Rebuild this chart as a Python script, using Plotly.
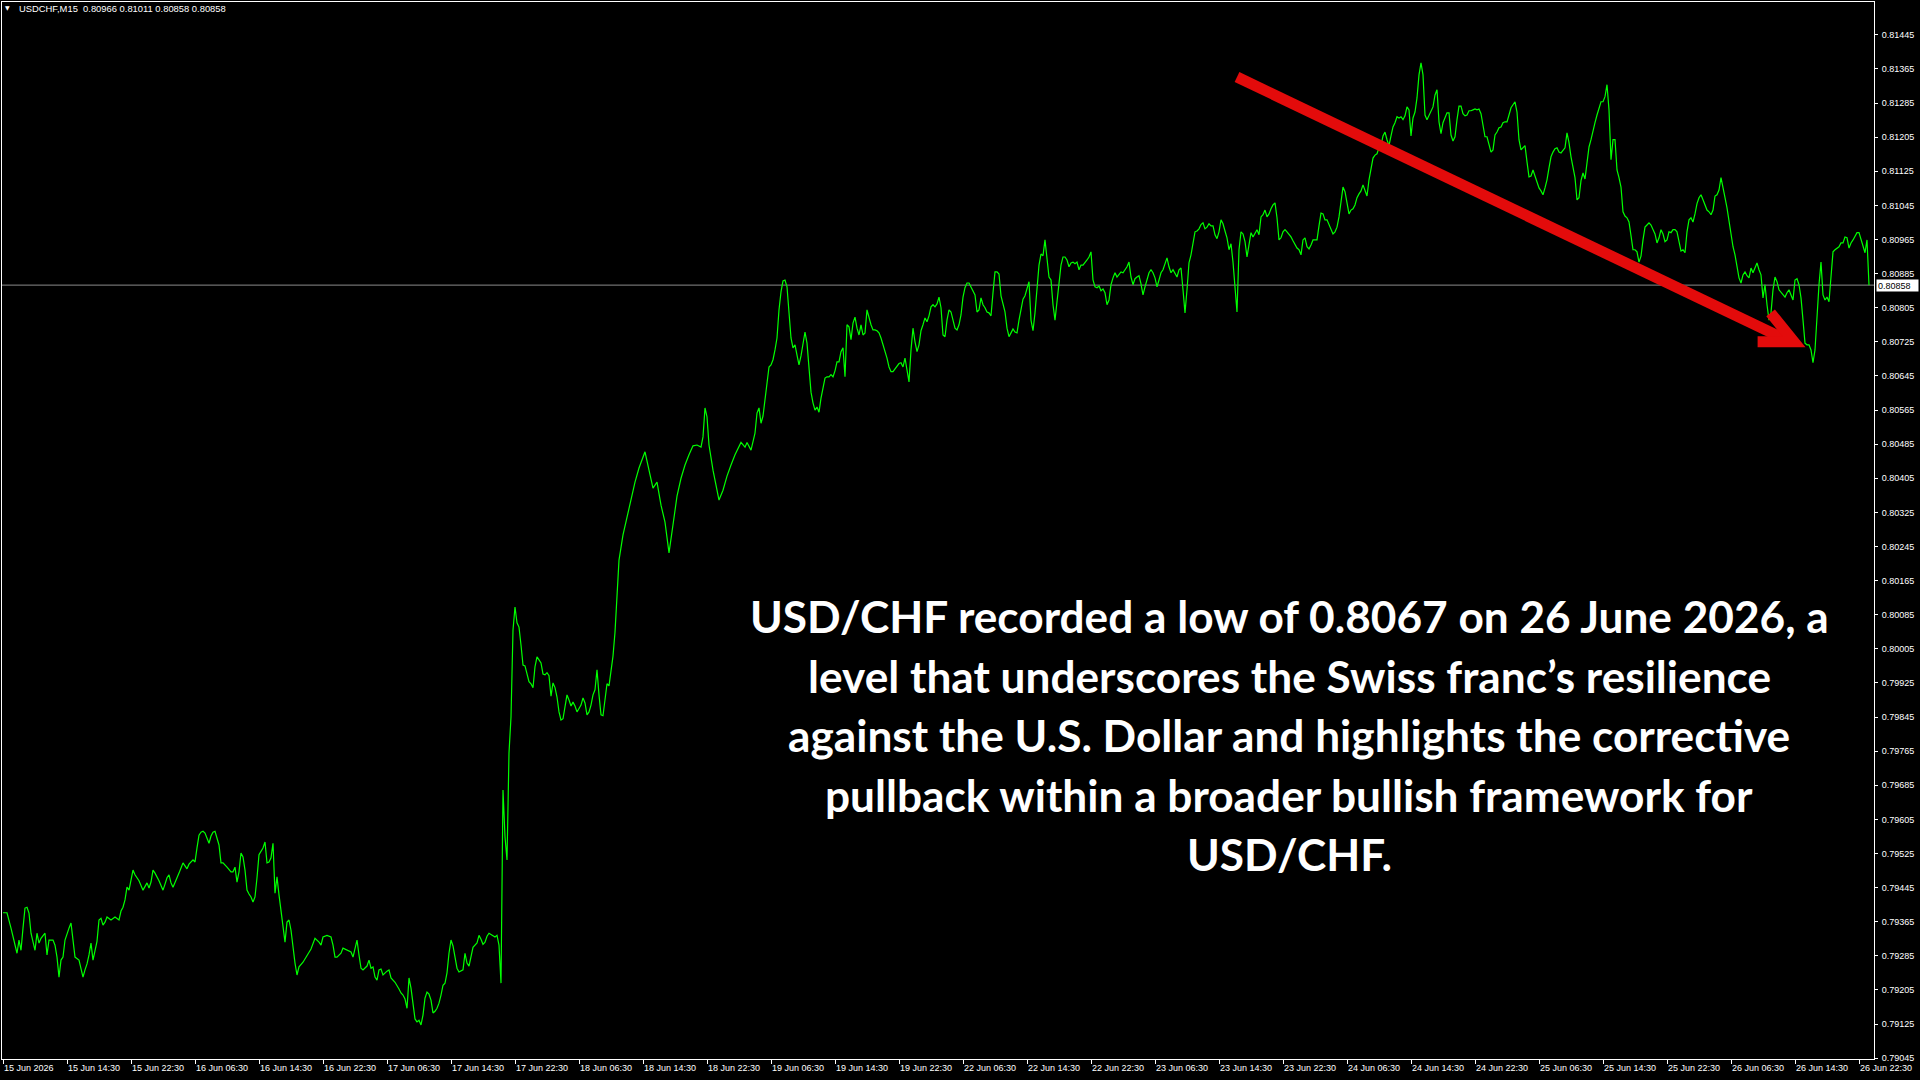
import plotly.graph_objects as go

# ---------------- data ----------------
symbol = "USDCHF,M15"
header_ohlc = ["0.80966", "0.81011", "0.80858", "0.80858"]
last_close = 0.80858

x_tick_labels = [
    "15 Jun 2026", "15 Jun 14:30", "15 Jun 22:30", "16 Jun 06:30", "16 Jun 14:30",
    "16 Jun 22:30", "17 Jun 06:30", "17 Jun 14:30", "17 Jun 22:30", "18 Jun 06:30",
    "18 Jun 14:30", "18 Jun 22:30", "19 Jun 06:30", "19 Jun 14:30", "19 Jun 22:30",
    "22 Jun 06:30", "22 Jun 14:30", "22 Jun 22:30", "23 Jun 06:30", "23 Jun 14:30",
    "23 Jun 22:30", "24 Jun 06:30", "24 Jun 14:30", "24 Jun 22:30", "25 Jun 06:30",
    "25 Jun 14:30", "25 Jun 22:30", "26 Jun 06:30", "26 Jun 14:30", "26 Jun 22:30",
]
bars_per_label = 32

y_tick_labels = [
    "0.79045", "0.79125", "0.79205", "0.79285", "0.79365", "0.79445", "0.79525",
    "0.79605", "0.79685", "0.79765", "0.79845", "0.79925", "0.80005", "0.80085",
    "0.80165", "0.80245", "0.80325", "0.80405", "0.80485", "0.80565", "0.80645",
    "0.80725", "0.80805", "0.80885", "0.80965", "0.81045", "0.81125", "0.81205",
    "0.81285", "0.81365", "0.81445",
]

# bars 0..249 (sampled)
seg_a_idx = [
    0, 2, 4, 6, 7, 8, 9, 10, 11, 12,
    13, 14, 15, 16, 17, 18, 19, 21, 22, 23,
    25, 26, 27, 28, 29, 30, 31, 32, 33, 34,
    35, 36, 38, 39, 40, 41, 42, 43, 44, 45,
    46, 47, 48, 49, 50, 51, 52, 54, 56, 58,
    59, 60, 61, 62, 63, 64, 65, 66, 67, 68,
    70, 71, 72, 73, 74, 75, 76, 78, 80, 81,
    82, 83, 84, 85, 86, 88, 89, 90, 92, 93,
    95, 96, 97, 98, 99, 100, 101, 102, 103, 104,
    105, 106, 107, 108, 109, 110, 112, 113, 114, 115,
    116, 117, 118, 119, 120, 121, 122, 123, 124, 125,
    126, 127, 128, 130, 131, 132, 133, 134, 135, 136,
    137, 138, 139, 141, 142, 143, 144, 145, 146, 147,
    148, 150, 152, 154, 156, 158, 159, 160, 162, 164,
    165, 166, 167, 169, 170, 172, 174, 175, 176, 177,
    178, 179, 180, 182, 183, 184, 185, 186, 187, 188,
    189, 190, 192, 193, 194, 196, 198, 199, 200, 201,
    202, 203, 204, 205, 206, 207, 208, 209, 210, 211,
    212, 213, 214, 215, 216, 217, 218, 219, 220, 221,
    222, 223, 224, 225, 226, 227, 228, 230, 231, 232,
    233, 234, 235, 237, 238, 239, 240, 241, 242, 243,
    245, 246, 247, 248, 249,
]
seg_a_close = [
    0.79386, 0.79386, 0.79350, 0.79310, 0.79291, 0.79322, 0.79298, 0.79350, 0.79397, 0.79399,
    0.79385, 0.79338, 0.79315, 0.79298, 0.79338, 0.79315, 0.79326, 0.79338, 0.79287, 0.79322,
    0.79322, 0.79310, 0.79282, 0.79235, 0.79275, 0.79282, 0.79322, 0.79338, 0.79350, 0.79362,
    0.79322, 0.79282, 0.79275, 0.79252, 0.79235, 0.79252, 0.79266, 0.79287, 0.79315, 0.79275,
    0.79298, 0.79319, 0.79369, 0.79373, 0.79357, 0.79364, 0.79376, 0.79369, 0.79376, 0.79369,
    0.79390, 0.79399, 0.79416, 0.79446, 0.79439, 0.79463, 0.79486, 0.79475, 0.79468, 0.79461,
    0.79439, 0.79449, 0.79456, 0.79444, 0.79458, 0.79486, 0.79479, 0.79461, 0.79439, 0.79453,
    0.79468, 0.79475, 0.79456, 0.79446, 0.79456, 0.79479, 0.79491, 0.79503, 0.79489, 0.79500,
    0.79510, 0.79505, 0.79538, 0.79568, 0.79575, 0.79577, 0.79573, 0.79563, 0.79549, 0.79566,
    0.79575, 0.79577, 0.79563, 0.79545, 0.79503, 0.79503, 0.79493, 0.79486, 0.79482, 0.79482,
    0.79493, 0.79458, 0.79482, 0.79526, 0.79517, 0.79486, 0.79439, 0.79430, 0.79423, 0.79411,
    0.79423, 0.79468, 0.79522, 0.79538, 0.79552, 0.79503, 0.79505, 0.79515, 0.79549, 0.79432,
    0.79470, 0.79428, 0.79392, 0.79317, 0.79364, 0.79369, 0.79345, 0.79298, 0.79268, 0.79240,
    0.79259, 0.79270, 0.79287, 0.79301, 0.79326, 0.79317, 0.79310, 0.79329, 0.79333, 0.79329,
    0.79310, 0.79282, 0.79282, 0.79291, 0.79303, 0.79298, 0.79294, 0.79282, 0.79303, 0.79322,
    0.79287, 0.79256, 0.79252, 0.79261, 0.79275, 0.79256, 0.79259, 0.79235, 0.79228, 0.79252,
    0.79254, 0.79240, 0.79249, 0.79252, 0.79233, 0.79223, 0.79207, 0.79198, 0.79193, 0.79184,
    0.79162, 0.79233, 0.79209, 0.79169, 0.79137, 0.79130, 0.79134, 0.79123, 0.79146, 0.79186,
    0.79200, 0.79195, 0.79181, 0.79151, 0.79155, 0.79162, 0.79174, 0.79193, 0.79216, 0.79221,
    0.79245, 0.79291, 0.79322, 0.79308, 0.79280, 0.79256, 0.79247, 0.79252, 0.79291, 0.79268,
    0.79261, 0.79287, 0.79305, 0.79315, 0.79333, 0.79324, 0.79312, 0.79317, 0.79331, 0.79338,
    0.79333, 0.79329, 0.79333, 0.79310, 0.79221,
]

# bars 250..308 (every bar)
seg_b_start = 250
seg_b_close = [
    0.79674, 0.79564, 0.79510, 0.79761, 0.79845, 0.80049, 0.80103, 0.80066, 0.80056, 0.80014,
    0.79967, 0.79965, 0.79949, 0.79928, 0.79923, 0.79914, 0.79963, 0.79986, 0.79979, 0.79972,
    0.79946, 0.79944, 0.79949, 0.79942, 0.79894, 0.79925, 0.79914, 0.79892, 0.79857, 0.79838,
    0.79841, 0.79868, 0.79897, 0.79885, 0.79871, 0.79880, 0.79871, 0.79857, 0.79866, 0.79873,
    0.79890, 0.79878, 0.79850, 0.79857, 0.79873, 0.79897, 0.79909, 0.79956, 0.79897, 0.79850,
    0.79848, 0.79885, 0.79923, 0.79918, 0.79949, 0.79988, 0.80044, 0.80138, 0.80213,
]

# bars 310..380 (sampled)
seg_c_idx = [
    310, 312, 314, 316, 318, 320, 321, 323, 325, 327,
    329, 331, 333, 335, 337, 339, 341, 343, 345, 347,
    349, 350, 351, 352, 353, 355, 357, 358, 360, 362,
    364, 366, 369, 371, 372, 374, 376, 377, 378, 379,
    380,
]
seg_c_close = [
    0.80272, 0.80312, 0.80359, 0.80396, 0.80429, 0.80452, 0.80467, 0.80424, 0.80382, 0.80396,
    0.80342, 0.80302, 0.80230, 0.80296, 0.80363, 0.80405, 0.80436, 0.80460, 0.80481, 0.80483,
    0.80478, 0.80502, 0.80570, 0.80549, 0.80483, 0.80424, 0.80382, 0.80354, 0.80377, 0.80410,
    0.80436, 0.80460, 0.80489, 0.80478, 0.80489, 0.80471, 0.80511, 0.80558, 0.80570, 0.80534,
    0.80551,
]

# bars 381..933 (every bar)
seg_d_start = 381
seg_d_close = [
    0.80593, 0.80624, 0.80666, 0.80671, 0.80683, 0.80706, 0.80734, 0.80800, 0.80842, 0.80868,
    0.80870, 0.80854, 0.80795, 0.80734, 0.80711, 0.80718, 0.80694, 0.80671, 0.80692, 0.80725,
    0.80748, 0.80722, 0.80671, 0.80607, 0.80582, 0.80565, 0.80572, 0.80560, 0.80593, 0.80617,
    0.80640, 0.80643, 0.80643, 0.80648, 0.80643, 0.80657, 0.80678, 0.80678, 0.80702, 0.80711,
    0.80643, 0.80765, 0.80760, 0.80730, 0.80769, 0.80783, 0.80757, 0.80741, 0.80765, 0.80741,
    0.80746, 0.80800, 0.80781, 0.80765, 0.80753, 0.80753, 0.80751, 0.80746, 0.80734, 0.80720,
    0.80706, 0.80687, 0.80666, 0.80655, 0.80655, 0.80662, 0.80666, 0.80674, 0.80676, 0.80666,
    0.80687, 0.80659, 0.80631, 0.80706, 0.80757, 0.80725, 0.80702, 0.80718, 0.80751, 0.80765,
    0.80781, 0.80772, 0.80786, 0.80807, 0.80812, 0.80807, 0.80814, 0.80830, 0.80805, 0.80741,
    0.80737, 0.80776, 0.80800, 0.80795, 0.80779, 0.80757, 0.80753, 0.80765, 0.80788, 0.80830,
    0.80852, 0.80863, 0.80863, 0.80854, 0.80847, 0.80835, 0.80795, 0.80800, 0.80828, 0.80812,
    0.80805, 0.80795, 0.80793, 0.80786, 0.80840, 0.80889, 0.80889, 0.80884, 0.80833, 0.80816,
    0.80795, 0.80757, 0.80737, 0.80746, 0.80755, 0.80748, 0.80746, 0.80776, 0.80800, 0.80825,
    0.80833, 0.80852, 0.80866, 0.80776, 0.80751, 0.80793, 0.80847, 0.80905, 0.80931, 0.80927,
    0.80964, 0.80912, 0.80877, 0.80870, 0.80812, 0.80776, 0.80823, 0.80859, 0.80905, 0.80924,
    0.80924, 0.80917, 0.80901, 0.80910, 0.80912, 0.80908, 0.80912, 0.80894, 0.80905, 0.80905,
    0.80910, 0.80917, 0.80924, 0.80936, 0.80870, 0.80854, 0.80852, 0.80856, 0.80845, 0.80849,
    0.80840, 0.80812, 0.80823, 0.80859, 0.80875, 0.80887, 0.80877, 0.80884, 0.80889, 0.80887,
    0.80894, 0.80901, 0.80912, 0.80877, 0.80859, 0.80873, 0.80877, 0.80880, 0.80861, 0.80835,
    0.80854, 0.80870, 0.80887, 0.80894, 0.80887, 0.80875, 0.80854, 0.80870, 0.80887, 0.80894,
    0.80910, 0.80922, 0.80901, 0.80887, 0.80894, 0.80887, 0.80877, 0.80894, 0.80898, 0.80847,
    0.80793, 0.80847, 0.80910, 0.80929, 0.80957, 0.80983, 0.80985, 0.80990, 0.81000, 0.81004,
    0.80990, 0.80994, 0.81002, 0.80997, 0.80997, 0.80976, 0.80967, 0.80983, 0.81011, 0.81002,
    0.80985, 0.80969, 0.80941, 0.80955, 0.80912, 0.80847, 0.80795, 0.80941, 0.80983, 0.80978,
    0.80960, 0.80924, 0.80957, 0.80981, 0.80971, 0.80981, 0.80988, 0.80976, 0.81018, 0.81023,
    0.81034, 0.81018, 0.81025, 0.81037, 0.81046, 0.81051, 0.81016, 0.80964, 0.80969, 0.80983,
    0.80988, 0.80983, 0.80978, 0.80971, 0.80962, 0.80952, 0.80945, 0.80941, 0.80929, 0.80964,
    0.80969, 0.80948, 0.80943, 0.80952, 0.80964, 0.80964, 0.80964, 0.80997, 0.81027, 0.81025,
    0.81011, 0.81011, 0.81000, 0.80988, 0.80978, 0.80983, 0.80994, 0.81018, 0.81051, 0.81088,
    0.81077, 0.81049, 0.81025, 0.81034, 0.81037, 0.81046, 0.81063, 0.81072, 0.81079, 0.81093,
    0.81081, 0.81067, 0.81105, 0.81133, 0.81156, 0.81163, 0.81166, 0.81180, 0.81185, 0.81208,
    0.81217, 0.81199, 0.81185, 0.81208, 0.81229, 0.81239, 0.81253, 0.81250, 0.81253, 0.81246,
    0.81255, 0.81276, 0.81269, 0.81208, 0.81250, 0.81264, 0.81297, 0.81351, 0.81379, 0.81351,
    0.81257, 0.81246, 0.81255, 0.81264, 0.81276, 0.81304, 0.81316, 0.81241, 0.81213, 0.81239,
    0.81250, 0.81262, 0.81262, 0.81210, 0.81196, 0.81206, 0.81246, 0.81278, 0.81278, 0.81260,
    0.81255, 0.81257, 0.81267, 0.81267, 0.81269, 0.81271, 0.81269, 0.81271, 0.81260, 0.81234,
    0.81206, 0.81206, 0.81189, 0.81170, 0.81175, 0.81210, 0.81217, 0.81227, 0.81229, 0.81239,
    0.81241, 0.81241, 0.81257, 0.81274, 0.81281, 0.81288, 0.81264, 0.81199, 0.81175, 0.81180,
    0.81185, 0.81147, 0.81112, 0.81114, 0.81128, 0.81114, 0.81098, 0.81086, 0.81079, 0.81070,
    0.81086, 0.81105, 0.81133, 0.81159, 0.81170, 0.81178, 0.81180, 0.81170, 0.81168, 0.81173,
    0.81180, 0.81215, 0.81192, 0.81159, 0.81133, 0.81110, 0.81058, 0.81063, 0.81103, 0.81121,
    0.81107, 0.81152, 0.81182, 0.81199, 0.81222, 0.81239, 0.81257, 0.81276, 0.81288, 0.81288,
    0.81300, 0.81328, 0.81269, 0.81152, 0.81199, 0.81199, 0.81128, 0.81110, 0.81088, 0.81030,
    0.81020, 0.81016, 0.81006, 0.80974, 0.80941, 0.80941, 0.80936, 0.80912, 0.80926, 0.80964,
    0.80994, 0.80999, 0.81004, 0.80999, 0.80988, 0.80978, 0.80957, 0.80969, 0.80988, 0.80978,
    0.80960, 0.80964, 0.80983, 0.80981, 0.80988, 0.80988, 0.80983, 0.80960, 0.80938, 0.80941,
    0.80934, 0.80983, 0.81011, 0.81016, 0.81006, 0.81025, 0.81049, 0.81063, 0.81070, 0.81058,
    0.81046, 0.81034, 0.81030, 0.81023, 0.81034, 0.81067, 0.81070, 0.81081, 0.81110, 0.81081,
    0.81063, 0.81039, 0.81006, 0.80974, 0.80948, 0.80929, 0.80898, 0.80875, 0.80863, 0.80882,
    0.80889, 0.80880, 0.80875, 0.80898, 0.80887, 0.80898, 0.80910, 0.80894, 0.80882, 0.80828,
    0.80859, 0.80812, 0.80776, 0.80793, 0.80847, 0.80877, 0.80866, 0.80847, 0.80842, 0.80835,
    0.80830, 0.80840, 0.80847, 0.80835, 0.80823, 0.80870, 0.80873, 0.80859, 0.80828, 0.80776,
    0.80722, 0.80718, 0.80718, 0.80706, 0.80676, 0.80706, 0.80800, 0.80859, 0.80912, 0.80835,
    0.80823, 0.80830, 0.80819, 0.80882, 0.80936, 0.80941, 0.80945, 0.80948, 0.80957, 0.80957,
    0.80971, 0.80969, 0.80945, 0.80957, 0.80964, 0.80974, 0.80981, 0.80981, 0.80964, 0.80945,
    0.80934, 0.80964, 0.80858,
]

# trend arrow anchored in (bar, price)
arrow_start = (617, 0.81346)
arrow_tip = (895.5, 0.80725)
arrow_barb_upper = (883.8, 0.80793)
arrow_barb_lower = (877.3, 0.80725)

note_lines = [
    "USD/CHF recorded a low of 0.8067 on 26 June 2026, a",
    "level that underscores the Swiss franc\u2019s resilience",
    "against the U.S. Dollar and highlights the corrective",
    "pullback within a broader bullish framework for",
    "USD/CHF.",
]

# ---------------- assemble ----------------
bar_index = (seg_a_idx
             + list(range(seg_b_start, seg_b_start + len(seg_b_close)))
             + seg_c_idx
             + list(range(seg_d_start, seg_d_start + len(seg_d_close))))
close_price = seg_a_close + seg_b_close + seg_c_close + seg_d_close

W, H = 1920, 1080
M_L, M_R, M_T, M_B = 2, 46, 2, 21
FONT = "Liberation Sans, Arial, sans-serif"

fig = go.Figure()
fig.add_trace(go.Scatter(
    x=bar_index, y=close_price, mode="lines",
    line=dict(color="#00ff00", width=1.2),
    hoverinfo="skip", showlegend=False,
))

n_total = seg_d_start + len(seg_d_close)
fig.update_xaxes(
    range=[-0.5, n_total + 1.5],
    tickmode="array",
    tickvals=[k * bars_per_label for k in range(len(x_tick_labels))],
    ticktext=x_tick_labels,
    ticks="outside", ticklen=4, tickcolor="#ffffff", tickwidth=1,
    ticklabelposition="outside right", ticklabeloverflow="allow",
    tickangle=0,
    tickfont=dict(family=FONT, size=9, color="#ffffff"),
    showgrid=False, zeroline=False,
    showline=True, linecolor="#ffffff", linewidth=1, mirror=True,
)
fig.update_yaxes(
    side="right",
    range=[0.79043, 0.81522],
    tickmode="array",
    tickvals=[float(t) for t in y_tick_labels],
    ticktext=y_tick_labels,
    ticks="outside", ticklen=3, tickcolor="#ffffff", tickwidth=1,
    tickfont=dict(family=FONT, size=9, color="#ffffff"),
    ticklabelstandoff=2,
    showgrid=False, zeroline=False,
    showline=True, linecolor="#ffffff", linewidth=1, mirror=True,
)

shapes = [
    # last price line
    dict(type="line", xref="paper", x0=0, x1=1, yref="y",
         y0=last_close, y1=last_close,
         line=dict(color="#8c8c8c", width=1), layer="below"),
    # red arrow shaft
    dict(type="line", xref="x", yref="y",
         x0=arrow_start[0], y0=arrow_start[1], x1=arrow_tip[0] - 3, y1=arrow_tip[1] + 0.00003,
         line=dict(color="#e30b0b", width=11), layer="above"),
    # red arrow head
    dict(type="path", xref="x", yref="y",
         path=(f"M {arrow_barb_upper[0]},{arrow_barb_upper[1]} "
               f"L {arrow_tip[0]},{arrow_tip[1]} "
               f"L {arrow_barb_lower[0]},{arrow_barb_lower[1]}"),
         line=dict(color="#e30b0b", width=11), layer="above"),
]

pw = W - M_L - M_R
ph = H - M_T - M_B
annotations = [
    dict(xref="paper", yref="paper", x=(7 - M_L) / pw, y=1 - (8 - M_T) / ph,
         xanchor="center", yanchor="middle", showarrow=False,
         text="\u25bc", font=dict(family="DejaVu Sans", size=6, color="#ffffff")),
    dict(xref="paper", yref="paper", x=(17 - M_L) / pw, y=1 - (8.5 - M_T) / ph,
         xanchor="left", yanchor="middle", showarrow=False,
         text=symbol + "\u00a0\u00a0" + " ".join(header_ohlc),
         font=dict(family=FONT, size=9.4, color="#ffffff")),
    dict(xref="paper", yref="y", x=(1876 - M_L) / pw, y=last_close,
         xanchor="left", yanchor="middle", showarrow=False,
         text=f"{last_close:.5f}", bgcolor="#ffffff", borderpad=1,
         width=39, height=9, align="left",
         font=dict(family=FONT, size=9, color="#000000")),
]

# note text, one annotation per line to control the line pitch
note_center_x = 1289
note_first_line_y = 616
note_line_pitch = 59.4
for k, line in enumerate(note_lines):
    ypix = note_first_line_y + k * note_line_pitch
    annotations.append(dict(
        xref="paper", yref="paper",
        x=(note_center_x - M_L) / pw, y=(H - M_B - ypix) / ph,
        xanchor="center", yanchor="middle", showarrow=False,
        text=line, align="center",
        font=dict(family="Lato, Open Sans, sans-serif", size=44.2,
                  color="#ffffff", weight=700),
    ))

fig.update_layout(
    width=W, height=H,
    margin=dict(l=M_L, r=M_R, t=M_T, b=M_B, pad=0),
    paper_bgcolor="#000000", plot_bgcolor="#000000",
    shapes=shapes, annotations=annotations,
    showlegend=False,
)

fig.write_html("out.html")
